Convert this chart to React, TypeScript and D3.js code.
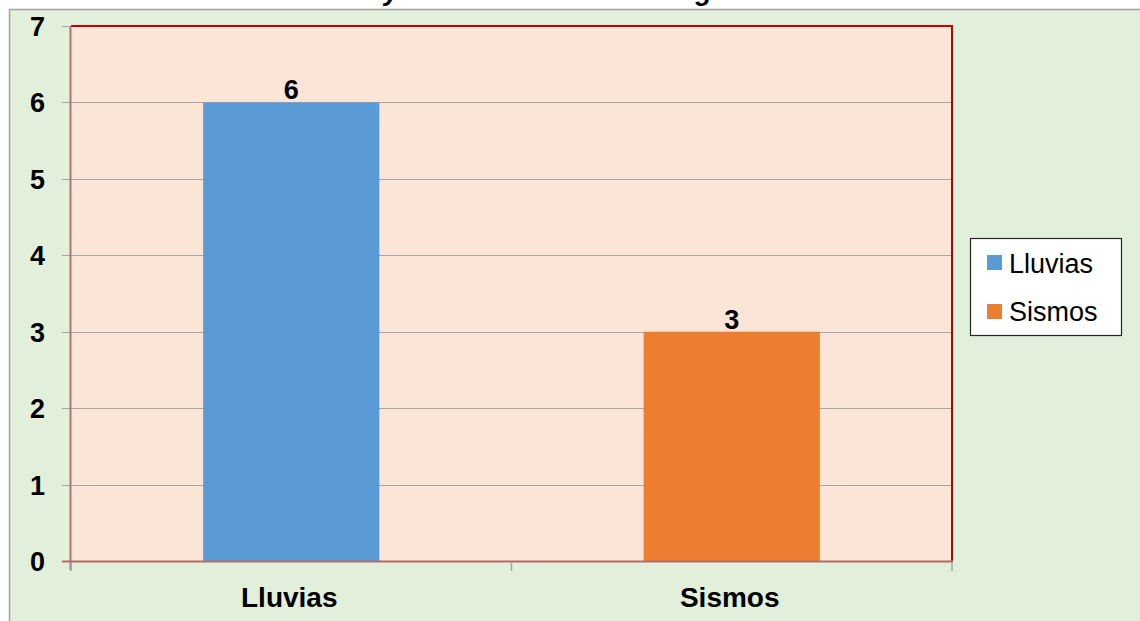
import React from "react";
import * as d3 from "d3";

const categories = ["Lluvias", "Sismos"];
const values = [6, 3];
const colors = ["#5b9bd5", "#ed7d31"];
const yTicks = [0, 1, 2, 3, 4, 5, 6, 7];
const titleParts = ["Eventos adversos y", "desastres naturales según"];

const W = 1140;
const H = 621;
const plot = { left: 71, right: 952, top: 26, bottom: 561 };
const FONT = "'Liberation Sans', Arial, sans-serif";

export default function App() {
  const y = d3.scaleLinear().domain([0, 7]).range([plot.bottom, plot.top]);
  const x = d3.scaleBand<string>().domain(categories).range([plot.left, plot.right]).padding(0);
  const bw = x.bandwidth() * 0.4;
  const xTickPos = [plot.left, ...categories.map((c) => (x(c) as number) + x.bandwidth())];

  return (
    <svg
      width={W}
      height={H}
      style={{ position: "absolute", left: 0, top: 0, fontFamily: FONT }}
    >
      <rect x={0} y={0} width={W} height={H} fill="#ffffff" />
      {/* clipped title */}
      <text fontSize={27} fontWeight="bold" fontStyle="italic" fill="#000">
        <tspan x={399} y={0} textAnchor="end">{titleParts[0]}</tspan>
        <tspan x={745} y={0} textAnchor="end">{titleParts[1]}</tspan>
      </text>
      {/* outer chart area */}
      <rect x={9.5} y={9.5} width={W} height={H} fill="#e2efda" stroke="#a3a3a3" strokeWidth={1.5} />
      {/* plot area */}
      <rect
        x={plot.left}
        y={plot.top}
        width={plot.right - plot.left}
        height={plot.bottom - plot.top}
        fill="#fbe5d6"
      />
      {/* gridlines */}
      {yTicks.map((t) => (
        <line
          key={"g" + t}
          x1={plot.left - 9}
          x2={plot.right}
          y1={Math.round(y(t)) + 0.5}
          y2={Math.round(y(t)) + 0.5}
          stroke="#a6a6a6"
          strokeWidth={1}
        />
      ))}
      {/* bars */}
      {categories.map((c, i) => {
        const cx = (x(c) as number) + x.bandwidth() / 2;
        return (
          <g key={c}>
            <rect x={cx - bw / 2} y={y(values[i])} width={bw} height={y(0) - y(values[i])} fill={colors[i]} />
            <text
              x={cx}
              y={y(values[i]) - 3}
              textAnchor="middle"
              fontSize={27}
              fontWeight="bold"
              fill="#000"
            >
              {values[i]}
            </text>
            <text x={cx - 2} y={607} textAnchor="middle" fontSize={28} fontWeight="bold" fill="#000">
              {c}
            </text>
          </g>
        );
      })}
      {/* plot border */}
      <line x1={plot.left} x2={plot.right + 1} y1={plot.top} y2={plot.top} stroke="#c00000" strokeWidth={2} />
      <line x1={plot.right} x2={plot.right} y1={plot.top} y2={plot.bottom} stroke="#c00000" strokeWidth={2} />
      <line x1={plot.left - 0.5} x2={plot.left - 0.5} y1={plot.top} y2={plot.bottom + 9} stroke="#b07272" strokeWidth={2} />
      <line x1={plot.left - 9} x2={plot.right + 1} y1={plot.bottom + 0.5} y2={plot.bottom + 0.5} stroke="#b06a6a" strokeWidth={2} />
      {/* x ticks */}
      {xTickPos.map((p, i) => (
        <line key={"xt" + i} x1={p} x2={p} y1={plot.bottom + 1} y2={plot.bottom + 10} stroke="#a6a6a6" strokeWidth={1.5} />
      ))}
      {/* y tick labels */}
      {yTicks.map((t) => (
        <text
          key={"yl" + t}
          x={45}
          y={y(t) + 10}
          textAnchor="end"
          fontSize={27}
          fontWeight="bold"
          fill="#000"
        >
          {t}
        </text>
      ))}
      {/* legend */}
      <rect x={970.5} y={238.5} width={151} height={97} fill="#ffffff" stroke="#262626" strokeWidth={1.2} />
      {categories.map((c, i) => (
        <g key={"lg" + c}>
          <rect x={987} y={255 + i * 49} width={15} height={15} fill={colors[i]} />
          <text x={1009} y={273 + i * 48} fontSize={27} fill="#000">
            {c}
          </text>
        </g>
      ))}
    </svg>
  );
}
